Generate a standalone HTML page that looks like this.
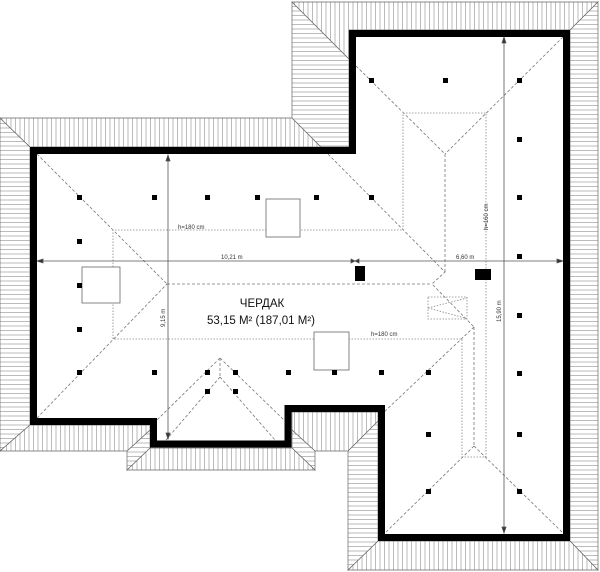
<!DOCTYPE html>
<html><head><meta charset="utf-8"><style>
html,body{margin:0;padding:0;background:#fff;}
svg{display:block;}
</style></head><body>
<svg width="600" height="572" viewBox="0 0 600 572" xmlns="http://www.w3.org/2000/svg" font-family="Liberation Sans, sans-serif">
<defs>
<pattern id="v" width="4.5" height="10" patternUnits="userSpaceOnUse"><rect width="4.5" height="10" fill="#fff"/><line x1="2" y1="0" x2="2" y2="10" stroke="#b4b4b4" stroke-width="0.9"/></pattern>
<pattern id="h" width="10" height="4.5" patternUnits="userSpaceOnUse"><rect width="10" height="4.5" fill="#fff"/><line x1="0" y1="2" x2="10" y2="2" stroke="#b4b4b4" stroke-width="0.9"/></pattern>
</defs>
<g stroke="#666" stroke-width="0.7">
<polygon fill="url(#h)" points="0,118 30,147 30,425 0,451"/>
<polygon fill="url(#v)" points="0,118 292,118 321,147 30,147"/>
<polygon fill="url(#h)" points="292,2 349,59 349,147 321,147 292,118"/>
<polygon fill="url(#v)" points="292,2 598,2 570,30 349,30 349,59"/>
<polygon fill="url(#h)" points="598,2 598,570 570,541 570,30"/>
<polygon fill="url(#v)" points="348,570 598,570 570,541 378,541"/>
<polygon fill="url(#h)" points="348,451 378,421 378,541 348,570"/>
<polygon fill="url(#v)" points="292,412 378,412 378,421 348,451 315,451 292,430"/>
<polygon fill="url(#h)" points="292,430 315,451 315,470 292,448"/>
<polygon fill="url(#v)" points="127,470 315,470 292,448 150,448"/>
<polygon fill="url(#h)" points="127,451 150,430 150,448 127,470"/>
<polygon fill="url(#v)" points="0,451 127,451 150,430 150,425 30,425"/>
</g>
<g fill="none" stroke="#777" stroke-width="0.8" stroke-dasharray="3,2">
<line x1="37" y1="154" x2="167" y2="284"/>
<line x1="37" y1="418" x2="167" y2="284"/>
<line x1="167" y1="284" x2="432" y2="284"/>
<line x1="445" y1="154" x2="445" y2="272"/>
<line x1="349" y1="59" x2="445" y2="154"/>
<line x1="563" y1="37" x2="445" y2="154"/>
<polyline points="321,147 445,272 432,284 474,327"/>
<line x1="474" y1="327" x2="383" y2="413"/>
<line x1="474" y1="327" x2="474" y2="446"/>
<line x1="474" y1="446" x2="385" y2="533"/>
<line x1="474" y1="446" x2="563" y2="533"/>
<line x1="220" y1="358" x2="157" y2="420"/>
<line x1="220" y1="358" x2="284" y2="420"/>
<line x1="220" y1="377" x2="166" y2="440"/>
<line x1="220" y1="377" x2="275" y2="440"/>
<line x1="220" y1="358" x2="220" y2="377"/>
</g>
<g fill="none" stroke="#888" stroke-width="0.8" stroke-dasharray="1.5,1.5">
<polyline points="113,339 113,230 403,230 403,113 486,113 486,457 462,457 462,339 113,339"/>
<rect x="428" y="297" width="39" height="22"/>
<line x1="428" y1="308" x2="467" y2="298"/>
<line x1="428" y1="308" x2="465" y2="318"/>
</g>
<g stroke="#555" stroke-width="0.8" fill="#333">
<line x1="168" y1="156" x2="168" y2="438"/>
<line x1="37" y1="261" x2="563" y2="261"/>
<line x1="504" y1="38" x2="504" y2="532"/>
<polygon points="168,155 166,161 170,161"/>
<polygon points="168,439 166,433 170,433"/>
<polygon points="37,261 43,259 43,263"/>
<polygon points="563,261 557,259 557,263"/>
<polygon points="504,37 502,43 506,43"/>
<polygon points="504,533 502,527 506,527"/>
<polygon points="355,261 351,259 351,263"/>
<polygon points="355,261 359,259 359,263"/>
</g>
<polygon fill="none" stroke="#000" stroke-width="7" stroke-linejoin="miter" points="33.5,150.5 352.5,150.5 352.5,33.5 566.5,33.5 566.5,537.5 381.5,537.5 381.5,408.5 288,408.5 288,444 153.5,444 153.5,421.5 33.5,421.5"/>
<g fill="#fff" stroke="#666" stroke-width="0.8">
<rect x="266" y="199" width="34" height="38"/>
<rect x="82" y="267" width="38" height="36"/>
<rect x="314" y="332" width="35" height="38"/>
</g>
<rect x="355" y="266" width="10" height="15" fill="#000"/>
<rect x="475" y="269" width="16" height="11" fill="#000"/>
<g fill="#000">
<rect x="77" y="195" width="5" height="5"/><rect x="152" y="195" width="5" height="5"/><rect x="205" y="195" width="5" height="5"/><rect x="255" y="195" width="5" height="5"/><rect x="314" y="195" width="5" height="5"/><rect x="369" y="195" width="5" height="5"/>
<rect x="77" y="239" width="5" height="5"/><rect x="77" y="283" width="5" height="5"/><rect x="77" y="327" width="5" height="5"/>
<rect x="77" y="370" width="5" height="5"/><rect x="152" y="370" width="5" height="5"/><rect x="205" y="370" width="5" height="5"/><rect x="233" y="370" width="5" height="5"/><rect x="286" y="370" width="5" height="5"/><rect x="332" y="370" width="5" height="5"/><rect x="379" y="370" width="5" height="5"/><rect x="426" y="370" width="5" height="5"/>
<rect x="205" y="389" width="5" height="5"/><rect x="233" y="389" width="5" height="5"/>
<rect x="369" y="78" width="5" height="5"/><rect x="443" y="78" width="5" height="5"/><rect x="517" y="78" width="5" height="5"/>
<rect x="517" y="137" width="5" height="5"/><rect x="517" y="195" width="5" height="5"/><rect x="517" y="254" width="5" height="5"/>
<rect x="517" y="313" width="5" height="5"/><rect x="517" y="371" width="5" height="5"/>
<rect x="426" y="432" width="5" height="5"/><rect x="517" y="432" width="5" height="5"/>
<rect x="426" y="489" width="5" height="5"/><rect x="517" y="489" width="5" height="5"/>
</g>
<g fill="#333" font-size="6">
<text x="178" y="229">h=180 cm</text>
<text x="371" y="336">h=180 cm</text>
<text x="221" y="259">10,21 m</text>
<text x="456" y="259">6,60 m</text>
<text transform="translate(488,230) rotate(-90)">h=160 cm</text>
<text transform="translate(165,327) rotate(-90)">9,15 m</text>
<text transform="translate(501,322) rotate(-90)">15,90 m</text>
</g>
<text x="262" y="307" text-anchor="middle" font-size="11.5" fill="#111">ЧЕРДАК</text>
<text x="261" y="324" text-anchor="middle" font-size="11.5" fill="#111">53,15 M² (187,01 M²)</text>
</svg>
</body></html>
